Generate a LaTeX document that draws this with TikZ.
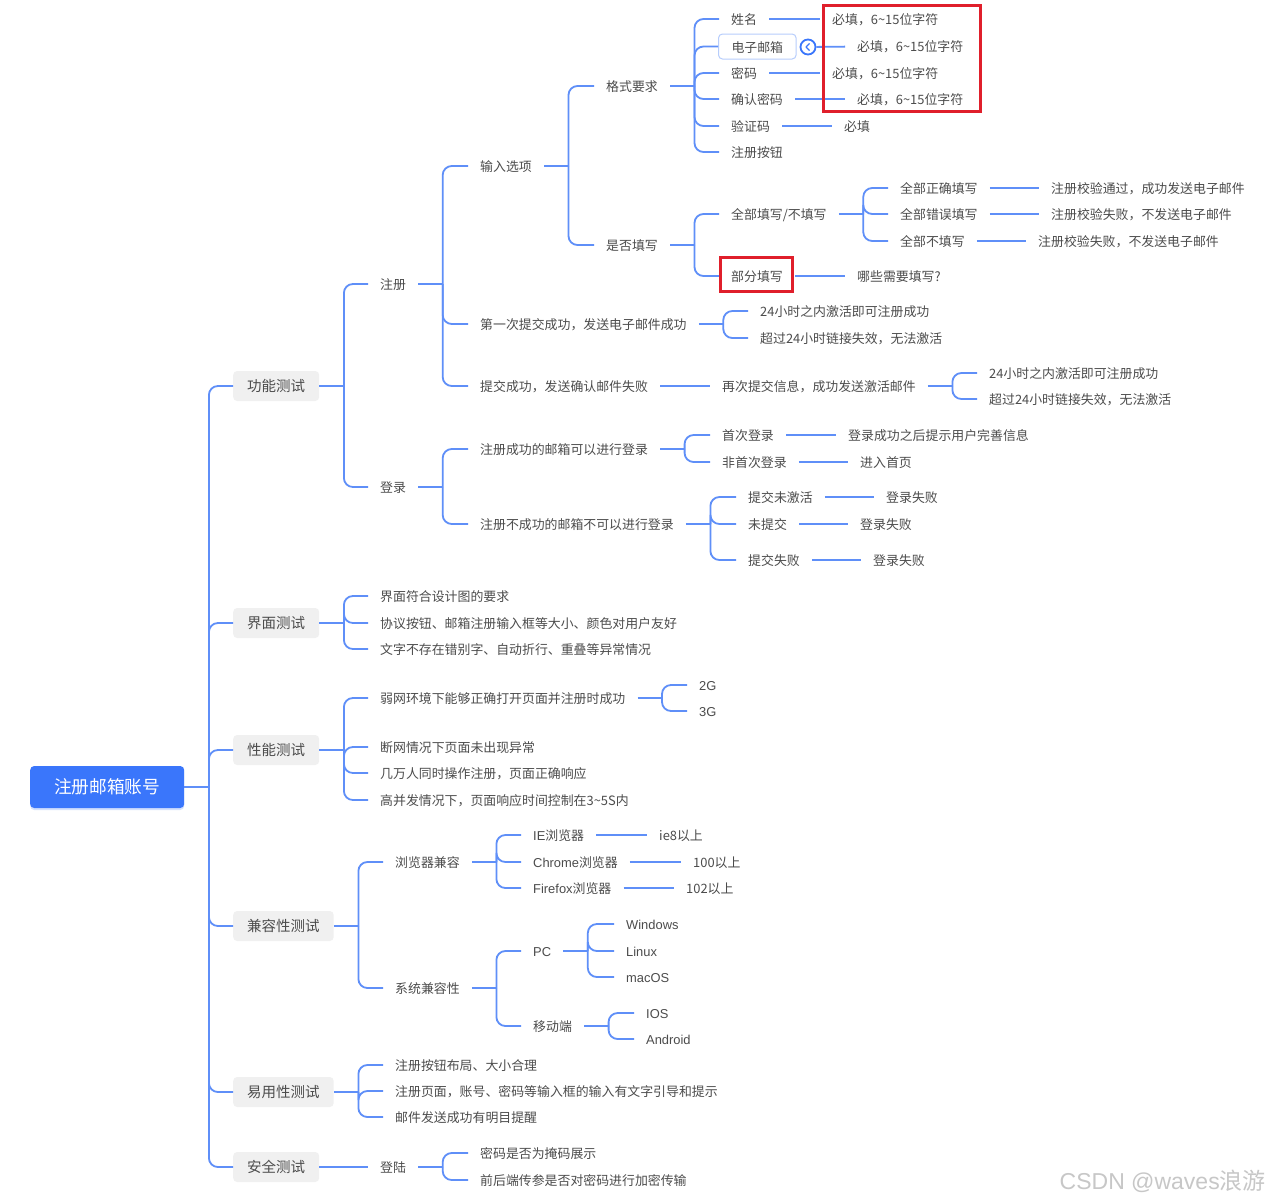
\documentclass[tikz,border=0pt]{standalone}
\usepackage{fontspec}
\setmainfont{Noto Sans CJK SC}
\newfontfamily\latinfont{Liberation Sans}
\usetikzlibrary{shadows}
\definecolor{ink}{HTML}{4C4C4C}
\definecolor{brand}{HTML}{3A76FB}
\definecolor{wire}{HTML}{5F8FF8}
\definecolor{chip}{HTML}{F0F0F0}
\definecolor{alert}{HTML}{E01F2B}
\newcommand{\req}{必填，6\textasciitilde 15位字符}
\newcommand{\branch}[2]{
  \draw[wire,line width=1.8pt] (#1.east) -- ++(24.5,0) coordinate (#1j);
  \foreach \kid in {#2}
    \draw[wire,line width=1.8pt,rounded corners=9pt] (#1j) |- (\kid.west);
}
\tikzset{
  item/.style={anchor=west,text=ink,inner xsep=12pt,inner ysep=0pt,text height=12pt,
    text depth=1pt,font=\fontsize{12.9}{15}\selectfont},
  topic/.style={anchor=west,text=ink,fill=chip,rounded corners=4pt,inner xsep=14pt,inner ysep=0pt,
    minimum height=30pt,font=\fontsize{14.5}{16}\selectfont},
  link/.style={wire,line width=1.8pt},
  redbox/.style={draw=alert,line width=3pt,inner sep=0pt}
}
\begin{document}
\begin{tikzpicture}[x=1pt,y=-1pt]
  \useasboundingbox (0,0) rectangle (1269,1203);
  \fill[white] (0,0) rectangle (1269,1203);

  \node[anchor=west,fill=brand,text=white,rounded corners=4pt,minimum width=154pt,minimum height=42pt,
    inner sep=0pt,font=\fontsize{17.7}{20}\selectfont,
    drop shadow={shadow xshift=0pt,shadow yshift=-2pt,fill=brand,opacity=.22}] (root) at (30,787) {注册邮箱账号};

  % first level
  \node[topic] (func) at (233,386) {功能测试};
  \node[topic] (look) at (233,623) {界面测试};
  \node[topic] (perf) at (233,750) {性能测试};
  \node[topic] (compat) at (233,926) {兼容性测试};
  \node[topic] (ease) at (233,1092) {易用性测试};
  \node[topic] (safe) at (233,1167) {安全测试};
  \branch{root}{func,look,perf,compat,ease,safe}

  % functional: register
  \node[item] (reg) at (368,284) {注册};
  \node[item] (login) at (368,487) {登录};
  \branch{func}{reg,login}
  \node[item] (input) at (468,166) {输入选项};
  \node[item] (first) at (468,324) {第一次提交成功，发送电子邮件成功};
  \node[item] (mailfail) at (468,386) {提交成功，发送确认邮件失败};
  \branch{reg}{input,first,mailfail}
  \node[item] (fmt) at (594,86) {格式要求};
  \node[item] (must) at (594,245) {是否填写};
  \branch{input}{fmt,must}

  \node[item] (name) at (719,19) {姓名};
  \node[item,draw=wire!45,line width=1pt,rounded corners=4pt,inner xsep=13pt,inner ysep=6pt] (mail) at (718,46.5) {电子邮箱};
  \node[item] (pwd) at (719,73) {密码};
  \node[item] (pwdb) at (719,99) {确认密码};
  \node[item] (code) at (719,126) {验证码};
  \node[item] (btn) at (719,152) {注册按钮};
  \branch{fmt}{name,mail,pwd,pwdb,code,btn}
  \node[item] (namer) at (820,19) {\req};
  \node[circle,draw=brand,fill=white,line width=1.8pt,minimum size=15pt,inner sep=0pt] (fold) at (808,47) {};
  \node[item] (mailr) at (845,46) {\req};
  \node[item] (pwdr) at (820,73) {\req};
  \node[item] (pwdbr) at (845,99) {\req};
  \node[item] (coder) at (832,126) {必填};
  \draw[link] (name) -- (namer);
  \draw[link] (fold) -- (mailr);
  \draw[link] (pwd) -- (pwdr);
  \draw[link] (pwdb) -- (pwdbr);
  \draw[link] (code) -- (coder);
  \draw[brand,line width=1.3pt,line join=round] (809.5,43.5) -- (806,47) -- (809.5,50.5);
  \node[redbox,minimum width=157pt,minimum height=106pt] (boxa) at (902,58.5) {};

  \node[item] (all) at (719,214) {全部填写/不填写};
  \node[item] (part) at (719,276) {部分填写};
  \branch{must}{all,part}
  \node[item] (allok) at (888,188) {全部正确填写};
  \node[item] (allbad) at (888,214) {全部错误填写};
  \node[item] (allnone) at (888,241) {全部不填写};
  \branch{all}{allok,allbad,allnone}
  \node[item] (okr) at (1039,188) {注册校验通过，成功发送电子邮件};
  \node[item] (badr) at (1039,214) {注册校验失败，不发送电子邮件};
  \node[item] (noner) at (1026,241) {注册校验失败，不发送电子邮件};
  \node[item] (partr) at (845,276) {哪些需要填写?};
  \draw[link] (allok) -- (okr);
  \draw[link] (allbad) -- (badr);
  \draw[link] (allnone) -- (noner);
  \draw[link] (part) -- (partr);
  \node[redbox,minimum width=72pt,minimum height=34pt] (boxb) at (756.5,274.5) {};

  \node[item] (act) at (748,311) {24小时之内激活即可注册成功};
  \node[item] (exp) at (748,338) {超过24小时链接失效，无法激活};
  \branch{first}{act,exp}
  \node[item] (again) at (710,386) {再次提交信息，成功发送激活邮件};
  \draw[link] (mailfail) -- (again);
  \node[item] (acta) at (977,373) {24小时之内激活即可注册成功};
  \node[item] (expa) at (977,399) {超过24小时链接失效，无法激活};
  \branch{again}{acta,expa}

  % functional: login
  \node[item] (okmail) at (468,449) {注册成功的邮箱可以进行登录};
  \node[item] (nomail) at (468,524) {注册不成功的邮箱不可以进行登录};
  \branch{login}{okmail,nomail}
  \node[item] (once) at (710,435) {首次登录};
  \node[item] (more) at (710,462) {非首次登录};
  \branch{okmail}{once,more}
  \node[item] (oncer) at (836,435) {登录成功之后提示用户完善信息};
  \node[item] (morer) at (848,462) {进入首页};
  \draw[link] (once) -- (oncer);
  \draw[link] (more) -- (morer);
  \node[item] (inact) at (736,497) {提交未激活};
  \node[item] (unsent) at (736,524) {未提交};
  \node[item] (sendbad) at (736,560) {提交失败};
  \branch{nomail}{inact,unsent,sendbad}
  \node[item] (inactr) at (874,497) {登录失败};
  \node[item] (unsentr) at (848,524) {登录失败};
  \node[item] (sendbadr) at (861,560) {登录失败};
  \draw[link] (inact) -- (inactr);
  \draw[link] (unsent) -- (unsentr);
  \draw[link] (sendbad) -- (sendbadr);

  % interface
  \node[item] (looka) at (368,596) {界面符合设计图的要求};
  \node[item] (lookb) at (368,623) {协议按钮、邮箱注册输入框等大小、颜色对用户友好};
  \node[item] (lookc) at (368,649) {文字不存在错别字、自动折行、重叠等异常情况};
  \branch{look}{looka,lookb,lookc}

  % performance
  \node[item] (weak) at (368,698) {弱网环境下能够正确打开页面并注册时成功};
  \node[item] (cut) at (368,747) {断网情况下页面未出现异常};
  \node[item] (many) at (368,773) {几万人同时操作注册，页面正确响应};
  \node[item] (peak) at (368,800) {高并发情况下，页面响应时间控制在3\textasciitilde 5S内};
  \branch{perf}{weak,cut,many,peak}
  \node[item] (gtwo) at (687,685) {\latinfont 2G};
  \node[item] (gthree) at (687,711) {\latinfont 3G};
  \branch{weak}{gtwo,gthree}

  % compatibility
  \node[item] (browser) at (383,862) {浏览器兼容};
  \node[item] (system) at (383,988) {系统兼容性};
  \branch{compat}{browser,system}
  \node[item] (ie) at (521,835) {{\latinfont IE}浏览器};
  \node[item] (chrome) at (521,862) {{\latinfont Chrome}浏览器};
  \node[item] (firefox) at (521,888) {{\latinfont Firefox}浏览器};
  \branch{browser}{ie,chrome,firefox}
  \node[item] (ier) at (647,835) {ie8以上};
  \node[item] (chromer) at (681,862) {100以上};
  \node[item] (firefoxr) at (674,888) {102以上};
  \draw[link] (ie) -- (ier);
  \draw[link] (chrome) -- (chromer);
  \draw[link] (firefox) -- (firefoxr);
  \node[item] (pc) at (521,951) {\latinfont PC};
  \node[item] (phone) at (521,1026) {移动端};
  \branch{system}{pc,phone}
  \node[item] (win) at (614,924) {\latinfont Windows};
  \node[item] (linux) at (614,951) {\latinfont Linux};
  \node[item] (mac) at (614,977) {\latinfont macOS};
  \branch{pc}{win,linux,mac}
  \node[item] (ios) at (634,1013) {\latinfont IOS};
  \node[item] (android) at (634,1039) {\latinfont Android};
  \branch{phone}{ios,android}

  % ease of use
  \node[item] (easea) at (383,1065) {注册按钮布局、大小合理};
  \node[item] (easeb) at (383,1091) {注册页面，账号、密码等输入框的输入有文字引导和提示};
  \node[item] (easec) at (383,1117) {邮件发送成功有明目提醒};
  \branch{ease}{easea,easeb,easec}

  % security
  \node[item] (signin) at (368,1167) {登陆};
  \draw[link] (safe) -- (signin);
  \node[item] (mask) at (468,1153) {密码是否为掩码展示};
  \node[item] (crypt) at (468,1180) {前后端传参是否对密码进行加密传输};
  \branch{signin}{mask,crypt}

  \node[anchor=east,inner sep=0pt,text=black!22,font=\fontsize{23}{26}\selectfont] (mark) at (1266,1181) {{\latinfont CSDN @waves}浪游};
\end{tikzpicture}
\end{document}
